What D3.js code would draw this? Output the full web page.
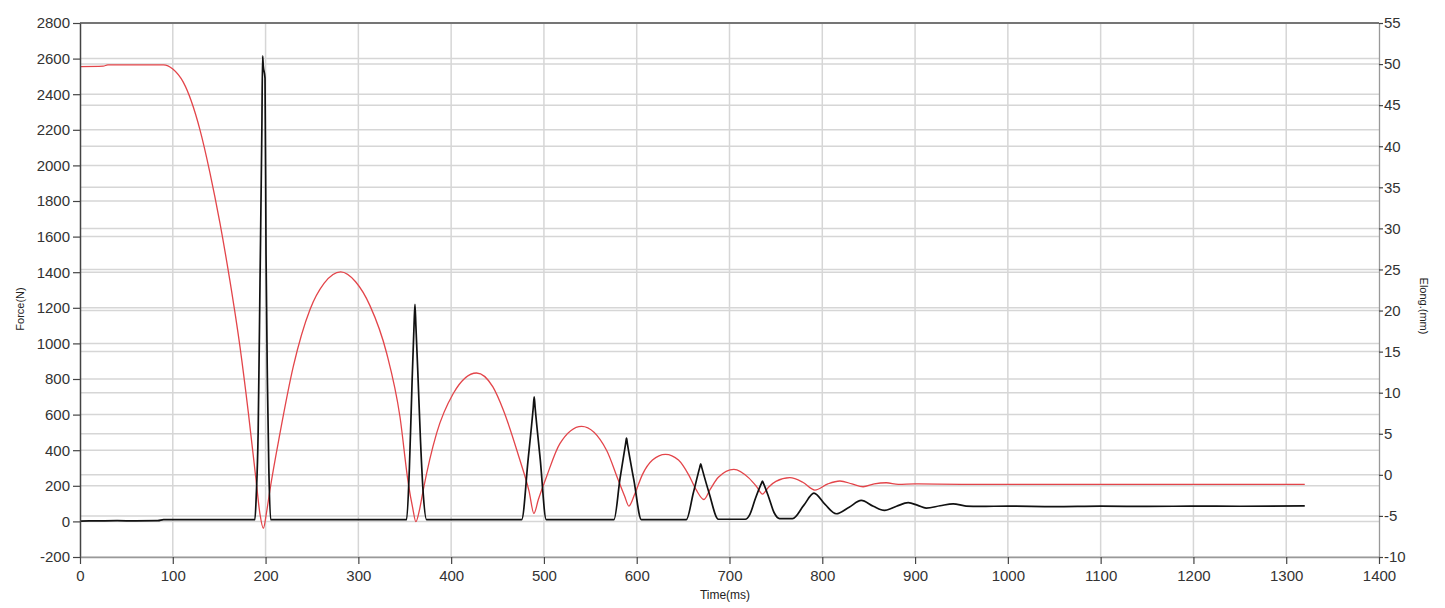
<!DOCTYPE html>
<html>
<head>
<meta charset="utf-8">
<script src="https://cdn.jsdelivr.net/npm/d3@7"></script>
<style>
  html, body { margin: 0; padding: 0; background: #fff; }
  svg { display: block; font-family: "Liberation Sans", Arial, sans-serif; }
</style>
</head>
<body>
<svg id="chart" width="1445" height="608"></svg>
<script>
// ---- data ----
const timeTicks = [0,100,200,300,400,500,600,700,800,900,1000,1100,1200,1300,1400];
const forceTicks = [-200,0,200,400,600,800,1000,1200,1400,1600,1800,2000,2200,2400,2600,2800];
const elongTicks = [-10,-5,0,5,10,15,20,25,30,35,40,45,50,55];

// Force (N) — black curve, left axis
const forceT = [0,20,40,60,84,90,188.5,190,192,194,196,196.8,197.5,199.4,200.5,202,203.5,205.5,
  352,355,358,360,361,362,364,367,370,373.5,
  476,483,488.5,489.5,490.5,496,502.5,
  575.5,582,588,589,590,597,605,
  653.5,661,668,669,670,678,688,
  717,722,728,734.5,735.5,736.5,742,748,754,768,
  780,791,803,815,829,842,855,867,880,892.6,903,912,927,941,955,970,
  1000,1050,1100,1150,1200,1250,1320];
const forceN = [2,3,4,3,4,10,10,150,500,1340,2200,2615,2560,2490,1500,780,300,10,
  10,300,800,1100,1220,1100,850,450,150,10,
  10,350,640,700,640,350,10,
  10,240,435,468,435,230,10,
  10,160,305,324,305,160,12,
  12,40,130,215,226,215,140,50,16,16,
  90,159,95,43,80,118,85,62,85,105,90,75,88,99,86,84,
  86,83,86,84,86,85,87];

// Elongation (mm) — red curve, right axis
const elongT = [0,25,30,90,100,111.3,129.3,140,150.9,161.6,172.4,181.4,189.7,194,197.6,201,204.7,
  215.5,229.9,247.8,263,281,297,312.5,330.5,344.8,353.8,358.5,362,366,369.9,
  384.3,402.3,427.4,445,456.2,474.1,484,489.2,494,502.9,
  517.2,540.6,567.5,580,587,591.6,598,606,617,631,645,656,664,672.4,
  679,688,704.7,721,729,735.6,742,750,765,779,792,806,819,832,844,856,869,882,900,950,1000,1100,1200,1320];
const elongMM = [49.7,49.75,49.9,49.9,49.4,47.8,42.0,36.8,30.6,23.6,15.6,7.6,-0.6,-4.8,-6.5,-4.6,-1.85,
  5.05,13.2,20.1,23.3,24.7,23.5,20.6,14.8,7.1,-1.0,-4.0,-5.7,-4.2,-1.85,
  5.05,9.9,12.4,10.7,7.9,1.8,-2.0,-4.7,-3.0,-0.2,
  3.8,5.9,3.0,-0.6,-2.6,-3.8,-2.3,0.0,1.8,2.5,1.8,0.0,-1.8,-3.0,
  -1.8,-0.3,0.67,-0.4,-1.4,-2.34,-1.5,-0.8,-0.35,-0.9,-1.85,-1.1,-0.75,-1.1,-1.45,-1.1,-0.96,-1.15,-1.1,-1.15,-1.16,-1.16,-1.16,-1.16];

// ---- layout ----
const L = 80, R = 1379, T = 23, B = 557;
const svg = d3.select("#chart");
svg.append("rect").attr("width",1445).attr("height",608).attr("fill","#fff");

const x = d3.scaleLinear().domain([0,1400]).range([L,R]);
const yL = d3.scaleLinear().domain([-200,2800]).range([B,T]);
const yR = d3.scaleLinear().domain([-10,55]).range([B,T]);

// grid
const grid = svg.append("g").attr("stroke","#d6d6d6").attr("stroke-width",1.5);
grid.selectAll("line.v").data(timeTicks.slice(1,-1)).join("line")
  .attr("x1",d=>x(d)).attr("x2",d=>x(d)).attr("y1",T).attr("y2",B);
grid.selectAll("line.hl").data(forceTicks).join("line").attr("class","hl")
  .attr("x1",L).attr("x2",R).attr("y1",d=>yL(d)).attr("y2",d=>yL(d));
grid.selectAll("line.hr").data(elongTicks).join("line").attr("class","hr")
  .attr("x1",L).attr("x2",R).attr("y1",d=>yR(d)).attr("y2",d=>yR(d));

// frame top
svg.append("line").attr("x1",L).attr("x2",R).attr("y1",T).attr("y2",T)
  .attr("stroke","#555").attr("stroke-width",1.5);

// curves
const elongData = elongT.map((t,i)=>[t, elongMM[i]]);
const forceData = forceT.map((t,i)=>[t, forceN[i]]);

svg.append("path").datum(elongData)
  .attr("fill","none").attr("stroke","#e3454a").attr("stroke-width",1.3)
  .attr("d", d3.line().x(d=>x(d[0])).y(d=>yR(d[1])).curve(d3.curveMonotoneX));

svg.append("path").datum(forceData)
  .attr("fill","none").attr("stroke","#111").attr("stroke-width",1.7)
  .attr("d", d3.line().x(d=>x(d[0])).y(d=>yL(d[1])).curve(d3.curveMonotoneX));

// axes
const fontSize = "15px";
const axL = svg.append("g").attr("transform",`translate(${L},0)`)
  .call(d3.axisLeft(yL).tickValues(forceTicks).tickSize(7).tickPadding(3).tickSizeOuter(0));
const axR = svg.append("g").attr("transform",`translate(${R},0)`)
  .call(d3.axisRight(yR).tickValues(elongTicks).tickSize(4).tickPadding(1).tickSizeOuter(0)
    .tickFormat(d=>d3.format("d")(d).replace("−","-")));
const axB = svg.append("g").attr("transform",`translate(0,${B})`)
  .call(d3.axisBottom(x).tickValues(timeTicks).tickSize(7).tickPadding(6).tickSizeOuter(0)
    .tickFormat(d3.format("d")));

axL.selectAll("path.domain").attr("stroke","#444").attr("stroke-width",1.5);
axL.selectAll(".tick line").attr("stroke","#444").attr("stroke-width",1.2);
axR.selectAll("path.domain").attr("stroke","#999").attr("stroke-width",1.3);
axR.selectAll(".tick line").attr("stroke","#444").attr("stroke-width",1.2);
axB.selectAll("path.domain").attr("stroke","#999").attr("stroke-width",1.3);
axB.selectAll(".tick line").attr("stroke","#444").attr("stroke-width",1.2);
[axL,axR,axB].forEach(a=>a.selectAll("text")
  .attr("font-size",fontSize).attr("fill","#333")
  .attr("font-family",'"Liberation Sans", Arial, sans-serif'));
axL.selectAll("text").text(d=>d3.format("d")(d).replace("−","-"));

// axis titles
svg.append("text").attr("transform","translate(24,309) rotate(-90)")
  .attr("text-anchor","middle").attr("font-size","11px").attr("fill","#222").text("Force(N)");
svg.append("text").attr("transform","translate(1420,306) rotate(90)")
  .attr("text-anchor","middle").attr("font-size","11px").attr("fill","#222").text("Elong.(mm)");
svg.append("text").attr("x",725).attr("y",599)
  .attr("text-anchor","middle").attr("font-size","12px").attr("fill","#222").text("Time(ms)");
</script>
</body>
</html>
